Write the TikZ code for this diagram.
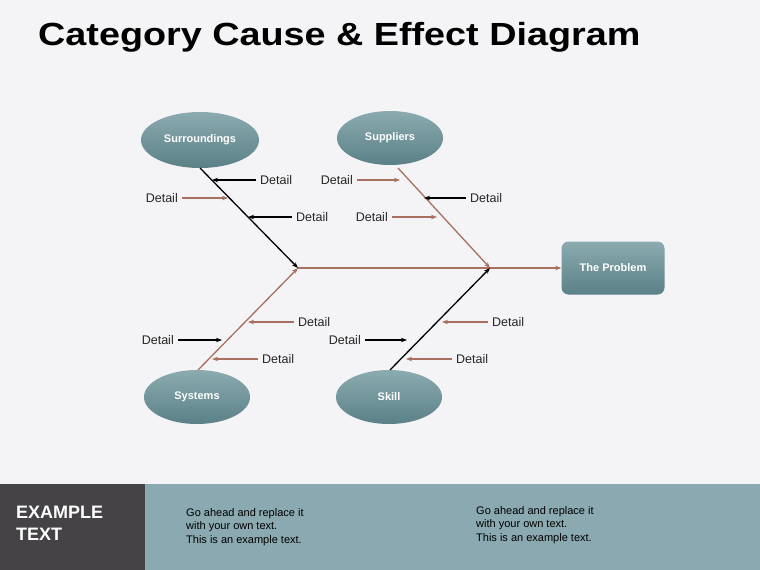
\documentclass[tikz,border=0pt]{standalone}
\usepackage{fontspec}
\setmainfont{Liberation Sans}
\usetikzlibrary{shapes.geometric,arrows.meta}
\definecolor{bgcol}{HTML}{F4F3F5}
\definecolor{bone}{HTML}{A8705F}
\definecolor{teal}{HTML}{6E969C}
\definecolor{tealdark}{HTML}{5A8187}
\definecolor{band}{HTML}{8AA9B0}
\definecolor{darkbox}{HTML}{454346}
\tikzset{
  cause/.style={ellipse, minimum width=106pt, minimum height=54pt, top color=teal!80, bottom color=tealdark,
    draw=none, text=white, font=\fontsize{11}{13}\selectfont\bfseries},
  detail/.style={font=\fontsize{12.5}{14}\selectfont, text=black!85, inner sep=4pt},
  bk/.style={-{Stealth[length=6pt,width=4.5pt]}, black, line width=1.3pt},
  br/.style={-{Stealth[length=6pt,width=4.5pt]}, bone, line width=1.3pt},
  body/.style={align=left, font=\fontsize{11}{13.5}\selectfont, anchor=north west, inner sep=0pt}
}
\begin{document}
\begin{tikzpicture}[x=1pt,y=-1pt]
    \fill[bgcol] (0,0) rectangle (760,570);
    \useasboundingbox (0,0) rectangle (760,570);
    \node[anchor=west, font=\fontsize{32}{36}\selectfont\bfseries, inner sep=0pt] (title) at (38,37)
        {\scalebox{1.18}[1]{Category Cause \& Effect Diagram}};

    % causes and problem
    \node[cause, minimum width=118pt, minimum height=56pt] (surr) at (200,140) {Surroundings};
    \node[cause] (supp) at (390,138) {Suppliers};
    \node[cause] (sys) at (197,397) {Systems};
    \node[cause] (skill) at (389,397) {Skill};
    \node[rounded corners=7pt, top color=teal!80, bottom color=tealdark, text=white,
          font=\fontsize{11}{13}\selectfont\bfseries, minimum width=103pt, minimum height=53pt] (prob) at (613,268) {The Problem};

    % spine and bones
    \coordinate (j1) at (298,268);
    \coordinate (j2) at (490,268);
    \draw[br] (j1) -- (prob.west);
    \draw[bk] (200,168) coordinate (s0) -- (j1);
    \draw[br] (398,168) coordinate (p0) -- (j2);
    \draw[br] (198,370) coordinate (y0) -- (j1);
    \draw[bk] (390,370) coordinate (k0) -- (j2);

    % details, surroundings
    \node[detail, anchor=west] (d1) at (256,180) {Detail};
    \node[detail, anchor=east] (d2) at (182,198) {Detail};
    \node[detail, anchor=west] (d3) at (292,217) {Detail};
    \draw[bk] (d1.west) -- (212,180) coordinate (e1);
    \draw[br] (d2.east) -- (228,198) coordinate (e2);
    \draw[bk] (d3.west) -- (248,217) coordinate (e3);
    % details, suppliers
    \node[detail, anchor=east] (d4) at (357,180) {Detail};
    \node[detail, anchor=west] (d5) at (466,198) {Detail};
    \node[detail, anchor=east] (d6) at (392,217) {Detail};
    \draw[br] (d4.east) -- (400,180) coordinate (e4);
    \draw[bk] (d5.west) -- (424,198) coordinate (e5);
    \draw[br] (d6.east) -- (437,217) coordinate (e6);
    % details, systems
    \node[detail, anchor=west] (d7) at (294,322) {Detail};
    \node[detail, anchor=east] (d8) at (178,340) {Detail};
    \node[detail, anchor=west] (d9) at (258,359) {Detail};
    \draw[br] (d7.west) -- (248,322) coordinate (e7);
    \draw[bk] (d8.east) -- (222,340) coordinate (e8);
    \draw[br] (d9.west) -- (212,359) coordinate (e9);
    % details, skill
    \node[detail, anchor=west] (d10) at (488,322) {Detail};
    \node[detail, anchor=east] (d11) at (365,340) {Detail};
    \node[detail, anchor=west] (d12) at (452,359) {Detail};
    \draw[br] (d10.west) -- (442,322) coordinate (e10);
    \draw[bk] (d11.east) -- (407,340) coordinate (e11);
    \draw[br] (d12.west) -- (406,359) coordinate (e12);

    % bottom band
    \fill[band] (145,484) rectangle (760,570);
    \fill[darkbox] (0,484) rectangle (145,570);
    \node[body, text=white, font=\fontsize{18}{22}\selectfont\bfseries] (ex) at (16,506) {EXAMPLE\\TEXT};
    \node[body] (t1) at (186,508) {Go ahead and replace it\\with your own text.\\This is an example text.};
    \node[body] (t2) at (476,506) {Go ahead and replace it\\with your own text.\\This is an example text.};
\end{tikzpicture}
\end{document}
